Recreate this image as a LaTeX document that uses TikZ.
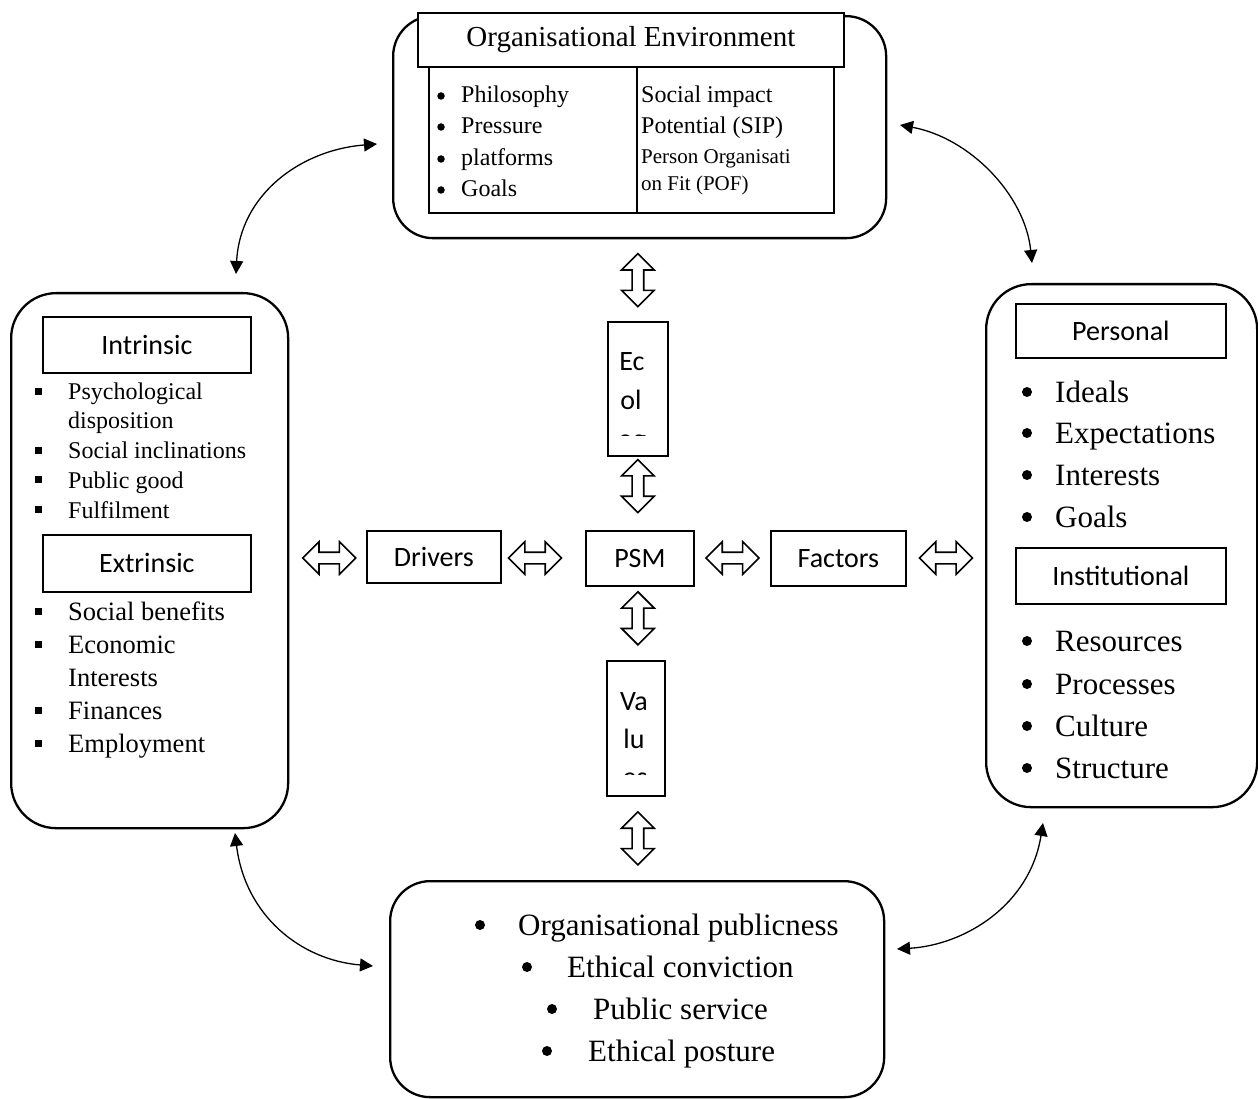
\documentclass[tikz,border=0pt]{standalone}
\usepackage{fontspec}
\setmainfont{Liberation Serif}
\newfontfamily\calibri{Carlito}
\usetikzlibrary{shapes.arrows,arrows.meta,calc}
\newcommand\fsz[1]{\fontsize{#1}{#1}\selectfont}
\begin{document}
\begin{tikzpicture}[x=1pt,y=-1pt,
  rbox/.style={draw, line width=2.3pt, rounded corners=40pt, inner sep=0pt},
  hdr/.style={draw, line width=1.8pt, fill=white, inner sep=0pt, font=\calibri\fsz{28}, anchor=north west},
  tab/.style={draw, line width=1.8pt, inner sep=0pt, anchor=north west},
  itm/.style={anchor=base west, inner sep=0pt},
  cbul/.style={circle, fill=black, inner sep=0pt, minimum size=#1},
  sbul/.style={rectangle, fill=black, inner sep=0pt, minimum size=#1},
  dbl/.style={shape=double arrow, draw, line width=1.6pt, fill=white, inner sep=0pt, inner ysep=5pt,
     minimum height=53pt, double arrow head extend=10.5pt, double arrow tip angle=90},
  curv/.style={line width=1.3pt, {Triangle[width=13pt,length=13pt]}-{Triangle[width=13pt,length=13pt]}},
  vtxt/.style={anchor=base, inner sep=0pt, font=\calibri\fsz{28}}
]
\useasboundingbox (0,0) rectangle (1258,1099);

% ---------- top: organisational environment ----------
\node[rbox, minimum width=493pt, minimum height=222pt, anchor=north west] (env) at (392,15) {};
\node[tab, minimum width=405pt, minimum height=146pt] (envtab) at (428,66) {};
\draw[line width=1.8pt] (637,66) -- (637,212);
\node[hdr, font=\rmfamily\fsz{29}, minimum width=426pt, minimum height=54pt] (envtitle) at (417,12) {Organisational Environment};
\foreach \yy/\tt in {96/Philosophy,127/Pressure,159/platforms,190/Goals}{
  \node[cbul=7.5pt] at (441,\yy) {};
  \node[itm, font=\fsz{24}] at (461,\yy+7) {\tt};
}
\node[itm, font=\fsz{24}] (sip1) at (641,103) {Social impact};
\node[itm, font=\fsz{24}] (sip2) at (641,134) {Potential (SIP)};
\node[itm, font=\fsz{21}] (pof1) at (641,164) {Person Organisati};
\node[itm, font=\fsz{21}] (pof2) at (641,191) {on Fit (POF)};

% ---------- left: drivers detail ----------
\node[rbox, minimum width=277pt, minimum height=535pt, anchor=north west, rounded corners=45pt] (lbox) at (10,292) {};
\node[hdr, minimum width=208pt, minimum height=56pt] (intr) at (42,316) {Intrinsic};
\node[hdr, minimum width=208pt, minimum height=57pt] (extr) at (42,534) {Extrinsic};
\foreach \yy in {391,450,479,509}{
  \node[sbul=7pt] at (38,\yy) {};
}
\foreach \yy/\tt in {391/Psychological,420/disposition,450/Social inclinations,480/Public good,510/Fulfilment}{
  \node[itm, font=\fsz{24}] at (68,\yy+8) {\tt};
}
\foreach \yy in {611,644,710,743}{
  \node[sbul=7pt] at (38,\yy) {};
}
\foreach \yy/\tt in {611/Social benefits,644/Economic,677/Interests,710/Finances,743/Employment}{
  \node[itm, font=\fsz{26.5}] at (68,\yy+9) {\tt};
}

% ---------- right: factors detail ----------
\node[rbox, minimum width=271pt, minimum height=523pt, anchor=north west, rounded corners=45pt] (rbox) at (985,283) {};
\node[hdr, minimum width=210pt, minimum height=54pt] (pers) at (1015,303) {Personal};
\node[hdr, minimum width=210pt, minimum height=56pt] (inst) at (1015,547) {Institutional};
\foreach \yy/\tt in {392/Ideals,433/Expectations,475/Interests,517/Goals,641/Resources,684/Processes,726/Culture,768/Structure}{
  \node[cbul=10pt] at (1027,\yy) {};
  \node[itm, font=\fsz{31}] at (1055,\yy+10) {\tt};
}

% ---------- centre ----------
\node[tab, minimum width=60pt, minimum height=134pt] (ecol) at (607,321) {};
\node[tab, minimum width=108pt, minimum height=55pt, font=\calibri\fsz{28}] (psm) at (585,530) {PSM};
\node[tab, minimum width=134pt, minimum height=52pt, font=\calibri\fsz{28}] (drivers) at (366,530) {Drivers};
\node[tab, minimum width=135pt, minimum height=55pt, font=\calibri\fsz{28}] (factors) at (770,530) {Factors};
\node[tab, minimum width=58pt, minimum height=135pt] (valu) at (606,660) {};
\begin{scope}
  \clip (608,322) rectangle (666,435.5);
  \node[vtxt] at (632,370) {Ec};
  \node[vtxt] at (631,409) {ol};
  \node[vtxt] at (632,448) {og};
\end{scope}
\begin{scope}
  \clip (607,661) rectangle (663,774.5);
  \node[vtxt] at (634,710) {Va};
  \node[vtxt] at (634,748) {lu};
  \node[vtxt] at (635,786) {es};
\end{scope}

% ---------- bottom ----------
\node[rbox, minimum width=494pt, minimum height=216pt, anchor=north west] (bot) at (389,880) {};
\foreach \bx/\tx/\yy/\tt in {480/518/925/Organisational publicness,527/567/967/Ethical conviction,552/593/1009/Public service,547/588/1051/Ethical posture}{
  \node[cbul=10pt] at (\bx,\yy) {};
  \node[itm, font=\fsz{31}] at (\tx,\yy+10) {\tt};
}

% ---------- block arrows ----------
\path (env.south -| ecol.north) -- (ecol.north) node[pos=0.5, dbl, rotate=90] {};
\path (ecol.south) -- (psm.north -| ecol.south) node[pos=0.4, dbl, rotate=90] {};
\path (psm.south -| ecol.south) -- (valu.north -| ecol.south) node[pos=0.43, dbl, rotate=90] {};
\path (valu.south -| ecol.south) -- (bot.north -| ecol.south) node[pos=0.5, dbl, rotate=90] {};
\coordinate (hy) at (0,558);
\path (lbox.east |- hy) -- (drivers.west |- hy) node[pos=0.52, dbl] {};
\path (drivers.east |- hy) -- (psm.west |- hy) node[pos=0.4, dbl] {};
\path (psm.east |- hy) -- (factors.west |- hy) node[pos=0.5, dbl] {};
\path (factors.east |- hy) -- (rbox.west |- hy) node[pos=0.5, dbl] {};

% ---------- curved arrows ----------
\coordinate (tlA) at (236,274);
\coordinate (tlB) at (377,144);
\coordinate (trA) at (900,125);
\coordinate (trB) at (1032,263);
\coordinate (blA) at (235,833);
\coordinate (blB) at (373,966);
\coordinate (brA) at (1043,823);
\coordinate (brB) at (897,949);
\draw[curv] (tlA) .. controls (240,195) and (300,150) .. (tlB);
\draw[curv] (trA) .. controls (970,138) and (1025,195) .. (trB);
\draw[curv] (blA) .. controls (245,915) and (300,960) .. (blB);
\draw[curv] (brA) .. controls (1030,905) and (965,945) .. (brB);
\end{tikzpicture}
\end{document}
